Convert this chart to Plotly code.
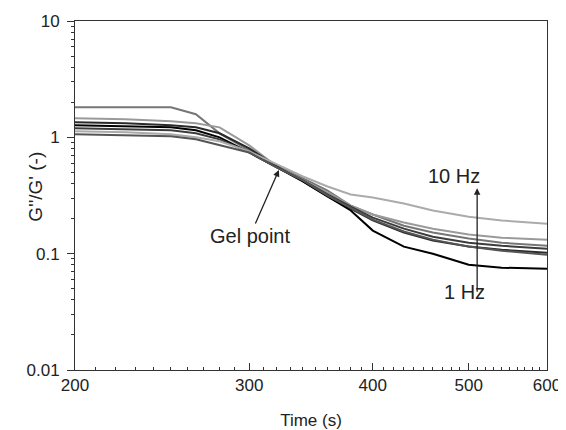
import plotly.graph_objects as go

time_s = [200, 225, 250, 265, 280, 300, 320, 340, 360, 380, 400, 430, 460, 500, 540, 600]

series_a = [1.81, 1.81, 1.81, 1.58, 1.083, 0.773, 0.574, 0.443, 0.349, 0.259, 0.217, 0.174, 0.152, 0.135, 0.124, 0.117]
series_b = [1.458, 1.43, 1.374, 1.32, 1.219, 0.853, 0.562, 0.426, 0.336, 0.259, 0.217, 0.185, 0.164, 0.146, 0.137, 0.132]
series_c = [1.347, 1.32, 1.269, 1.219, 1.083, 0.804, 0.562, 0.418, 0.31, 0.244, 0.193, 0.152, 0.1295, 0.115, 0.108, 0.102]
series_d = [1.269, 1.244, 1.219, 1.149, 1.0, 0.742, 0.551, 0.418, 0.31, 0.235, 0.158, 0.115, 0.1, 0.0804, 0.0757, 0.0743]
series_e = [1.196, 1.172, 1.149, 1.083, 0.961, 0.742, 0.551, 0.426, 0.323, 0.254, 0.204, 0.164, 0.14, 0.1244, 0.117, 0.11]
series_f = [1.126, 1.104, 1.061, 1.0, 0.924, 0.758, 0.585, 0.461, 0.378, 0.323, 0.304, 0.27, 0.235, 0.208, 0.193, 0.181]
series_g = [1.061, 1.04, 1.02, 0.961, 0.853, 0.742, 0.551, 0.426, 0.316, 0.249, 0.196, 0.155, 0.132, 0.115, 0.106, 0.098]

series_list = [series_a, series_b, series_c, series_d, series_e, series_f, series_g]
series_colors = ["#767676", "#9a9a9a", "#2a2a2a", "#000000", "#3c3c3c", "#ababab", "#555555"]

x_ticks = [200, 300, 400, 500, 600]
x_minor = [v for v in range(210, 600, 10) if v not in x_ticks]
y_ticks = [0.01, 0.1, 1, 10]
y_tick_text = ["0.01", "0.1", "1", "10"]
y_minor = [m * d for d in [0.01, 0.1, 1] for m in range(2, 10)]

FONT = "Liberation Sans, Arial, sans-serif"
TXT = "#222222"

fig = go.Figure()
for vals, col in zip(series_list, series_colors):
    fig.add_trace(go.Scatter(x=time_s, y=vals, mode="lines",
                             line=dict(color=col, width=2), showlegend=False,
                             hoverinfo="skip"))

fig.update_layout(
    width=558, height=422,
    margin=dict(l=67, r=19, t=13, b=60),
    paper_bgcolor="white", plot_bgcolor="white",
    font=dict(family=FONT, size=16, color=TXT),
    showlegend=False,
)

fig.update_xaxes(
    type="log", range=[2.30103, 2.778151], automargin=False,
    tickmode="array", tickvals=x_ticks, ticktext=[str(v) for v in x_ticks],
    ticks="inside", ticklen=7, tickwidth=1, tickcolor="#333",
    minor=dict(tickmode="array", tickvals=x_minor, ticks="inside", ticklen=3, tickcolor="#333"),
    showline=True, linecolor="#333", linewidth=1, mirror=True,
    showgrid=False, zeroline=False,
    tickfont=dict(size=17, color=TXT),
    title=dict(text="Time (s)", font=dict(size=17, color=TXT), standoff=19),
)
fig.update_yaxes(
    type="log", range=[-2, 1], automargin=False,
    tickmode="array", tickvals=y_ticks, ticktext=y_tick_text,
    ticks="outside", ticklen=7, tickwidth=1, tickcolor="#333",
    minor=dict(tickmode="array", tickvals=y_minor, ticks="outside", ticklen=3, tickcolor="#333"),
    showline=True, linecolor="#333", linewidth=1, mirror=True,
    showgrid=False, zeroline=False, ticklabelstandoff=4,
    tickfont=dict(size=17, color=TXT),
)

fig.add_annotation(xref="paper", yref="paper", x=-0.112, y=0.524,
                   text="G''/G' (-)", textangle=-90, showarrow=False,
                   font=dict(size=19, color=TXT))
fig.add_annotation(xref="paper", yref="paper", x=0.432, y=0.573,
                   text="Gel point", showarrow=True, ax=-29, ay=66,
                   arrowhead=2, arrowsize=1, arrowwidth=1.3, arrowcolor="#222",
                   standoff=0, font=dict(size=20, color=TXT))
fig.add_annotation(xref="paper", yref="paper", x=0.852, y=0.521,
                   text="", showarrow=True, ax=0, ay=105,
                   arrowhead=2, arrowsize=1, arrowwidth=1.3, arrowcolor="#222", standoff=0)
fig.add_annotation(xref="paper", yref="paper", x=0.862, y=0.557, text="10 Hz",
                   showarrow=False, font=dict(size=20, color=TXT))
fig.add_annotation(xref="paper", yref="paper", x=0.873, y=0.186, text="1 Hz",
                   showarrow=False, font=dict(size=20, color=TXT))

fig.write_html("out.html")
